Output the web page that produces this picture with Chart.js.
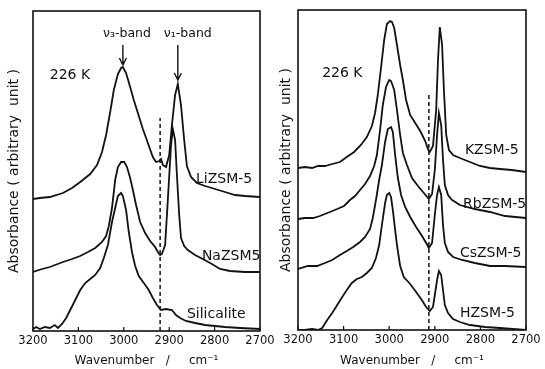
<!DOCTYPE html>
<html>
<head>
<meta charset="utf-8">
<script src="https://cdn.jsdelivr.net/npm/chart.js@4/dist/chart.umd.min.js"></script>
<style>
  html, body { margin: 0; padding: 0; background: #fff; }
  #wrap { position: relative; width: 545px; height: 369px; }
  #wrap canvas { position: absolute; left: 0; top: 0; }
</style>
</head>
<body>
<div id="wrap">
  <canvas id="leftPanel" width="545" height="369"></canvas>
  <canvas id="rightPanel" width="545" height="369"></canvas>
</div>
<script>
// Wavenumber axis (cm^-1), drawn high to low
const tickValues = [3200, 3100, 3000, 2900, 2800, 2700];
const tickLabels = ['3200', '3100', '3000', '2900', '2800', '2700'];

// ---- Left panel: LiZSM-5, NaZSM5, Silicalite (offset spectra, arbitrary units) ----
const liWn  = [3200,3185,3163,3134,3114,3096,3074,3059,3048,3039,3030,3022,3013,3006,3002,2995,2986,2978,2969,2958,2947,2936,2929,2922,2918,2914,2907,2900,2894,2887,2881,2874,2867,2861,2852,2839,2821,2799,2777,2755,2733,2700];
const liAbs = [ 132, 133, 134, 138, 143, 149, 157, 166, 179, 196, 219, 241, 257, 263, 264, 258, 244, 231, 218, 202, 188, 174, 169, 170, 172, 166, 164, 176, 206, 236, 247, 226, 191, 165, 154, 148, 145, 142, 139, 136, 135, 134];

const naWn  = [3200,3180,3163,3134,3114,3096,3079,3063,3048,3039,3033,3026,3019,3013,3006,2999,2993,2986,2980,2973,2964,2953,2942,2931,2925,2920,2916,2909,2903,2896,2892,2887,2883,2878,2874,2867,2859,2843,2826,2806,2788,2766,2733,2700];
const naAbs = [  59,  62,  64,  69,  72,  75,  79,  83,  89,  95, 105, 123, 151, 164, 169, 169, 164, 153, 141, 126, 109,  98,  90,  84,  79,  76,  77,  86, 131, 186, 202, 191, 156, 116,  93,  85,  81,  76,  72,  67,  62,  60,  59,  59];

const siWn  = [3200,3193,3185,3174,3163,3152,3145,3136,3127,3118,3107,3096,3085,3074,3063,3052,3044,3035,3026,3019,3013,3006,3002,2995,2989,2982,2975,2967,2956,2945,2936,2927,2918,2907,2894,2885,2876,2863,2843,2821,2799,2777,2744,2700];
const siAbs = [   2,   4,   2,   4,   3,   6,   3,   7,  13,  21,  31,  41,  48,  52,  56,  63,  73,  86, 109, 123, 135, 138, 135, 121,  99,  79,  65,  55,  48,  41,  33,  26,  21,  22,  21,  16,  13,  10,   8,   6,   5,   4,   3,   2];

// ---- Right panel: KZSM-5, RbZSM-5, CsZSM-5, HZSM-5 ----
const kWn  = [3200,3185,3169,3156,3141,3125,3108,3093,3077,3062,3049,3038,3031,3025,3018,3011,3005,2998,2994,2989,2983,2976,2970,2963,2954,2943,2932,2921,2915,2911,2904,2897,2893,2889,2884,2880,2875,2869,2860,2845,2823,2801,2779,2757,2731,2700];
const kAbs = [ 162, 163, 162, 164, 164, 166, 168, 173, 178, 185, 193, 204, 217, 235, 262, 290, 306, 309, 308, 302, 285, 265, 250, 230, 215, 207, 199, 189, 181, 178, 184, 220, 270, 303, 285, 240, 195, 180, 175, 172, 168, 164, 162, 161, 160, 158];

const rbWn  = [3200,3185,3167,3152,3130,3114,3099,3086,3075,3064,3053,3042,3033,3027,3020,3014,3007,3000,2996,2989,2983,2976,2970,2961,2950,2937,2924,2913,2906,2900,2895,2891,2886,2882,2878,2871,2862,2845,2812,2779,2746,2700];
const rbAbs = [ 111, 112, 112, 114, 118, 121, 124, 130, 134, 140, 146, 154, 164, 175, 200, 225, 243, 250, 249, 240, 220, 195, 177, 165, 152, 144, 137, 131, 136, 160, 195, 217, 205, 170, 145, 135, 130, 125, 121, 118, 114, 112];

const csWn  = [3200,3178,3158,3141,3125,3108,3093,3079,3064,3053,3042,3036,3029,3022,3016,3009,3003,2996,2992,2987,2981,2974,2965,2954,2941,2928,2919,2913,2906,2900,2895,2891,2886,2882,2878,2871,2860,2840,2812,2779,2746,2700];
const csAbs = [  61,  64,  64,  67,  70,  75,  79,  83,  88,  93, 101, 112, 130, 150, 165, 188, 201, 203, 198, 175, 152, 135, 123, 113, 103,  94,  87,  82,  87, 115, 135, 143, 135, 105,  87,  78,  73,  70,  67,  64,  64,  63];

const hWn  = [3200,3185,3169,3156,3147,3136,3125,3114,3103,3093,3082,3071,3060,3049,3038,3029,3022,3016,3009,3005,3000,2996,2992,2987,2983,2976,2968,2954,2941,2930,2919,2911,2904,2900,2895,2891,2886,2882,2878,2871,2860,2845,2823,2790,2757,2700];
const hAbs = [   0,   0,   1,   0,   2,  10,  17,  25,  33,  40,  47,  51,  53,  57,  62,  72,  85, 105, 127, 135, 137, 133, 120, 100,  85,  64,  53,  46,  38,  31,  23,  19,  23,  35,  50,  59,  55,  40,  25,  17,  11,   8,   5,   3,   2,   0];

// Vertical dashed reference lines
const leftMarkerWn = [2920, 2920];
const leftMarkerAbs = [0, 213];
const rightMarkerWn = [2913, 2913];
const rightMarkerAbs = [0, 235];

const FONT = "'DejaVu Sans', 'Liberation Sans', sans-serif";
const INK = '#111';

function pts(wn, abs) {
  return wn.map((x, i) => ({ x: x, y: abs[i] }));
}

function spectrum(wn, abs) {
  return { data: pts(wn, abs), borderColor: INK, borderWidth: 1.8, pointRadius: 0, tension: 0, fill: false };
}

function marker(wn, abs) {
  return { data: pts(wn, abs), borderColor: INK, borderWidth: 1.5, borderDash: [4, 3], pointRadius: 0, fill: false };
}

// Frame, inward ticks, text notes and arrows
const panelDecor = {
  id: 'panelDecor',
  afterDatasetsDraw(chart, args, opts) {
    const { ctx, chartArea: a, scales: { x, y } } = chart;
    ctx.save();
    ctx.strokeStyle = INK;
    ctx.lineWidth = 1.6;
    ctx.strokeRect(a.left, a.top, a.right - a.left, a.bottom - a.top);

    ctx.lineWidth = 1.2;
    x.ticks.forEach(t => {
      const px = x.getPixelForValue(t.value);
      ctx.beginPath();
      ctx.moveTo(px, a.bottom);
      ctx.lineTo(px, a.bottom - 4);
      ctx.stroke();
    });

    (opts.arrows || []).forEach(ar => {
      const px = x.getPixelForValue(ar.x);
      const p0 = y.getPixelForValue(ar.from);
      const p1 = y.getPixelForValue(ar.to);
      ctx.lineWidth = 1.4;
      ctx.beginPath();
      ctx.moveTo(px, p0);
      ctx.lineTo(px, p1);
      ctx.moveTo(px - 3.5, p1 - 7);
      ctx.lineTo(px, p1);
      ctx.lineTo(px + 3.5, p1 - 7);
      ctx.stroke();
    });

    ctx.fillStyle = INK;
    ctx.textBaseline = 'middle';
    (opts.notes || []).forEach(n => {
      ctx.font = (n.size || 14) + 'px ' + FONT;
      ctx.textAlign = n.align || 'left';
      ctx.fillText(n.text, x.getPixelForValue(n.x), y.getPixelForValue(n.y));
    });
    ctx.restore();
  }
};

function makePanel(id, datasets, geom, decor) {
  return new Chart(document.getElementById(id), {
    type: 'line',
    data: { datasets: datasets },
    plugins: [panelDecor],
    options: {
      responsive: false,
      animation: false,
      devicePixelRatio: 1,
      layout: { padding: { left: geom.padLeft, right: geom.padRight, top: geom.top, bottom: 0 } },
      plugins: {
        legend: { display: false },
        tooltip: { enabled: false },
        panelDecor: decor
      },
      scales: {
        x: {
          type: 'linear',
          min: 2700,
          max: 3200,
          reverse: true,
          afterBuildTicks: s => { s.ticks = tickValues.map(v => ({ value: v })); },
          afterFit: s => { s.height = geom.axisHeight; },
          grid: { display: false, drawTicks: false, tickLength: 0 },
          border: { display: false },
          ticks: {
            autoSkip: false,
            maxRotation: 0,
            padding: 3,
            color: INK,
            font: { family: FONT, size: 11.5 },
            callback: v => tickLabels[tickValues.indexOf(v)]
          },
          title: {
            display: true,
            text: 'Wavenumber   /     cm\u207B\u00B9',
            color: INK,
            font: { family: FONT, size: 12 },
            padding: { top: 0, bottom: 1 }
          }
        },
        y: {
          min: 0,
          max: 320,
          afterFit: s => { s.width = geom.axisWidth; },
          grid: { display: false, drawTicks: false },
          border: { display: false },
          ticks: { display: false },
          title: {
            display: true,
            text: 'Absorbance ( arbitrary  unit )',
            color: INK,
            font: { family: FONT, size: 14 },
            padding: { top: 5.5, bottom: 0 }
          }
        }
      }
    }
  });
}

makePanel('leftPanel',
  [spectrum(liWn, liAbs), spectrum(naWn, naAbs), spectrum(siWn, siAbs), marker(leftMarkerWn, leftMarkerAbs)],
  { padLeft: 0, padRight: 285, top: 11, axisWidth: 33, axisHeight: 38 },
  {
    notes: [
      { text: '226 K', x: 3163, y: 256 },
      { text: '\u03BD\u2083-band', x: 2993, y: 297, align: 'center', size: 12.5 },
      { text: '\u03BD\u2081-band', x: 2859, y: 297, align: 'center', size: 12.5 },
      { text: 'LiZSM-5', x: 2841, y: 152 },
      { text: 'NaZSM5', x: 2828, y: 75 },
      { text: 'Silicalite', x: 2861, y: 17 }
    ],
    arrows: [
      { x: 3002, from: 286, to: 266 },
      { x: 2881, from: 286, to: 251 }
    ]
  }
);

makePanel('rightPanel',
  [spectrum(kWn, kAbs), spectrum(rbWn, rbAbs), spectrum(csWn, csAbs), spectrum(hWn, hAbs), marker(rightMarkerWn, rightMarkerAbs)],
  { padLeft: 272, padRight: 19, top: 10, axisWidth: 26, axisHeight: 39 },
  {
    notes: [
      { text: '226 K', x: 3147, y: 257 },
      { text: 'KZSM-5', x: 2834, y: 180 },
      { text: 'RbZSM-5', x: 2838, y: 126 },
      { text: 'CsZSM-5', x: 2845, y: 77 },
      { text: 'HZSM-5', x: 2845, y: 17 }
    ]
  }
);
</script>
</body>
</html>
